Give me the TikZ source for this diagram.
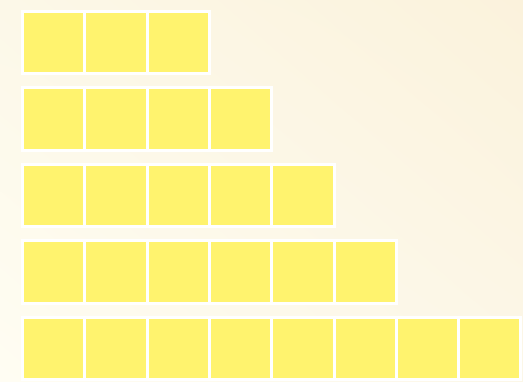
\documentclass[tikz,border=0pt]{standalone}
\usetikzlibrary{shadings}
\definecolor{sq}{RGB}{255,243,110}
\definecolor{bgUR}{RGB}{251,242,220}
\definecolor{bgUL}{RGB}{252,248,232}
\definecolor{bgLL}{RGB}{255,253,243}
\definecolor{bgLR}{RGB}{252,247,232}
\tikzset{cell/.style={draw=white,line width=3pt,fill=sq,minimum size=62.3pt,inner sep=0pt,outer sep=0pt,anchor=north west}}
\begin{document}
\begin{tikzpicture}[x=1pt,y=-1pt]
\useasboundingbox (0,0) rectangle (523,382);
\shade[upper right=bgUR,upper left=bgUL,lower left=bgLL,lower right=bgLR] (0,0) rectangle (523,382);
\foreach \r/\n/\y in {1/3/11.5,2/4/88,3/5/164.5,4/6/241,5/8/317.5}{
  \foreach \c in {1,...,\n}{
    \node[cell] (r\r c\c) at ({22.5+(\c-1)*62.3},\y) {};
  }
}
\end{tikzpicture}
\end{document}
